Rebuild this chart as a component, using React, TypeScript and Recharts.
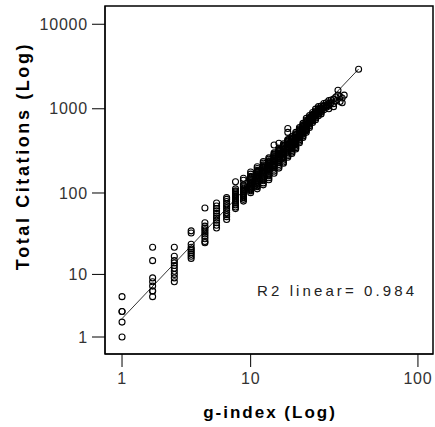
import { ScatterChart, Scatter, XAxis, YAxis, ReferenceArea, ReferenceLine } from "recharts"

const gIndexValues = [
    1, 2, 3, 4, 5, 6, 7, 8, 9, 10, 11, 12, 13, 14, 15, 16, 17, 18, 19, 20,
    21, 22, 23, 24, 25, 26, 27, 28, 29, 30, 31, 32, 33, 34, 35, 36, 37, 45,
]

const citationsByG = [
    [1, 2, 3, 3, 5],
    [22, 15, 9, 8, 7, 6, 6, 5],
    [22, 17, 15, 14, 13, 12, 11, 10, 9, 8],
    [35, 33, 24, 22, 21, 20, 19, 18, 17, 16],
    [66, 44, 40, 38, 36, 34, 32, 30, 28, 26, 25],
    [76, 70, 65, 61, 57, 53, 50, 47, 44, 41, 38],
    [88, 84, 79, 74, 70, 66, 62, 58, 55, 52, 48],
    [136, 112, 106, 103, 100, 97, 95, 92, 90, 87, 85, 82, 80, 76, 72, 68, 65],
    [150, 142, 126, 122, 118, 114, 111, 108, 105, 103, 100, 98, 95, 93, 90, 88, 84, 80],
    [178, 168, 158, 154, 150, 146, 143, 140, 136, 133, 130, 127, 124, 121, 118, 115, 112, 109, 106, 101],
    [205, 196, 186, 181, 177, 173, 169, 165, 161, 158, 154, 150, 147, 143, 140, 136, 133, 130, 126, 122, 119, 112],
    [236, 226, 216, 211, 206, 201, 197, 192, 188, 184, 180, 176, 172, 168, 164, 160, 156, 152, 148, 144, 140, 132, 125],
    [262, 252, 242, 237, 232, 227, 222, 217, 213, 208, 204, 199, 195, 190, 186, 181, 177, 172, 168, 164, 160, 152, 144],
    [372, 300, 290, 284, 278, 272, 266, 260, 255, 249, 244, 238, 233, 228, 222, 217, 212, 207, 202, 192, 182, 172],
    [390, 342, 328, 321, 314, 307, 300, 294, 288, 282, 276, 270, 264, 258, 252, 246, 240, 234, 229, 218, 208, 198],
    [384, 368, 360, 352, 345, 337, 330, 323, 316, 309, 302, 296, 289, 283, 276, 270, 264, 258, 246, 234, 226],
    [585, 525, 432, 423, 414, 405, 396, 388, 379, 371, 363, 355, 347, 339, 332, 325, 317, 303, 290, 277, 266],
    [470, 452, 443, 434, 425, 416, 408, 399, 390, 382, 374, 366, 358, 350, 342, 335, 321, 308, 296],
    [525, 505, 495, 485, 475, 465, 455, 446, 436, 427, 418, 409, 400, 392, 384, 376, 360, 346, 334],
    [598, 575, 563, 552, 541, 530, 519, 508, 497, 487, 477, 467, 457, 448, 430, 412, 396],
    [672, 645, 631, 618, 605, 592, 580, 567, 555, 543, 531, 520, 509, 498, 477, 458],
    [770, 730, 712, 695, 678, 662, 647, 632, 617, 603, 589, 576, 563, 550, 526],
    [830, 790, 770, 752, 735, 718, 702, 686, 671, 656, 628, 600],
    [905, 862, 842, 822, 803, 785, 767, 750, 734, 718, 688],
    [990, 940, 917, 895, 873, 852, 832, 812, 775, 742],
    [1060, 1005, 980, 955, 931, 908, 886, 864, 824],
    [1080, 1020, 990, 963, 937, 912, 870],
    [1155, 1090, 1060, 1030, 975],
    [1180, 1110, 1075, 1040],
    [1250, 1160, 1120, 1080, 1000],
    [1270, 1180],
    [1300, 1150, 1060],
    [1380, 1240],
    [1660, 1450],
    [1390, 1220],
    [1340, 1180],
    [1450],
    [2940],
]

// linear fit line, drawn from the smallest to the largest g-index
const fitG = [1, 45]
const fitCitations = [2.3, 2950]

const xTickValues = [1, 10, 100]
const yTickValues = [1, 10, 100, 1000, 10000]
const r2Label = "R2 linear= 0.984"

// the axes are log(value + 1)
const toLog = (v: number) => Math.log10(v + 1)
const fromLog = (t: number) => String(Math.round(Math.pow(10, t) - 1))

const points = gIndexValues.flatMap((g, i) =>
    citationsByG[i].map((c) => ({ x: toLog(g), y: toLog(c) }))
)

const xDomain: [number, number] = [0.203, 2.091]
const yDomain: [number, number] = [0.1, 4.216]

const font = "'Liberation Sans', Arial, sans-serif"
const tickStyle = { fill: "#333", fontSize: 16, fontFamily: font, letterSpacing: 0.8 }

const OpenCircle = (props: any) => (
    <circle cx={props.cx} cy={props.cy} r={3} fill="none" stroke="#000" strokeWidth={1.1} />
)

export default function App() {
    return (
        <div style={{ position: "absolute", left: 0, top: 0, width: 435, height: 427, background: "#fff" }}>
            <ScatterChart
                width={435}
                height={427}
                margin={{ top: 6, right: 2, bottom: 0, left: 0 }}
                style={{ fontFamily: font }}
            >
                <XAxis
                    type="number"
                    dataKey="x"
                    domain={xDomain}
                    allowDataOverflow
                    ticks={xTickValues.map(toLog)}
                    tickFormatter={fromLog}
                    tickSize={13}
                    tickMargin={6}
                    height={73}
                    stroke="#000"
                    tick={tickStyle}
                    label={{
                        content: () => (
                            <text x={270} y={418} textAnchor="middle" fontWeight="bold" fontSize={17}
                                letterSpacing={2} fill="#000" fontFamily={font}>
                                g-index (Log)
                            </text>
                        ),
                    }}
                />
                <YAxis
                    type="number"
                    dataKey="y"
                    domain={yDomain}
                    allowDataOverflow
                    ticks={yTickValues.map(toLog)}
                    tickFormatter={fromLog}
                    tickSize={13}
                    tickMargin={4}
                    width={105}
                    stroke="#000"
                    tick={tickStyle}
                    label={{
                        content: () => (
                            <text x={29} y={156} textAnchor="middle" fontWeight="bold" fontSize={18}
                                letterSpacing={2.6} fill="#000" fontFamily={font}
                                transform="rotate(-90, 29, 156)">
                                Total Citations (Log)
                            </text>
                        ),
                    }}
                />
                <ReferenceArea
                    x1={xDomain[0]}
                    x2={xDomain[1]}
                    y1={yDomain[0]}
                    y2={yDomain[1]}
                    fill="none"
                    stroke="#000"
                    strokeWidth={1.5}
                    label={{
                        content: () => (
                            <text x={257} y={296} fontSize={15} letterSpacing={3.1} fill="#222" fontFamily={font}>
                                {r2Label}
                            </text>
                        ),
                    }}
                />
                <Scatter data={points} shape={OpenCircle} isAnimationActive={false} />
                <ReferenceLine
                    segment={[
                        { x: toLog(fitG[0]), y: toLog(fitCitations[0]) },
                        { x: toLog(fitG[1]), y: toLog(fitCitations[1]) },
                    ]}
                    stroke="#000"
                    strokeWidth={0.8}
                />
            </ScatterChart>
        </div>
    )
}
